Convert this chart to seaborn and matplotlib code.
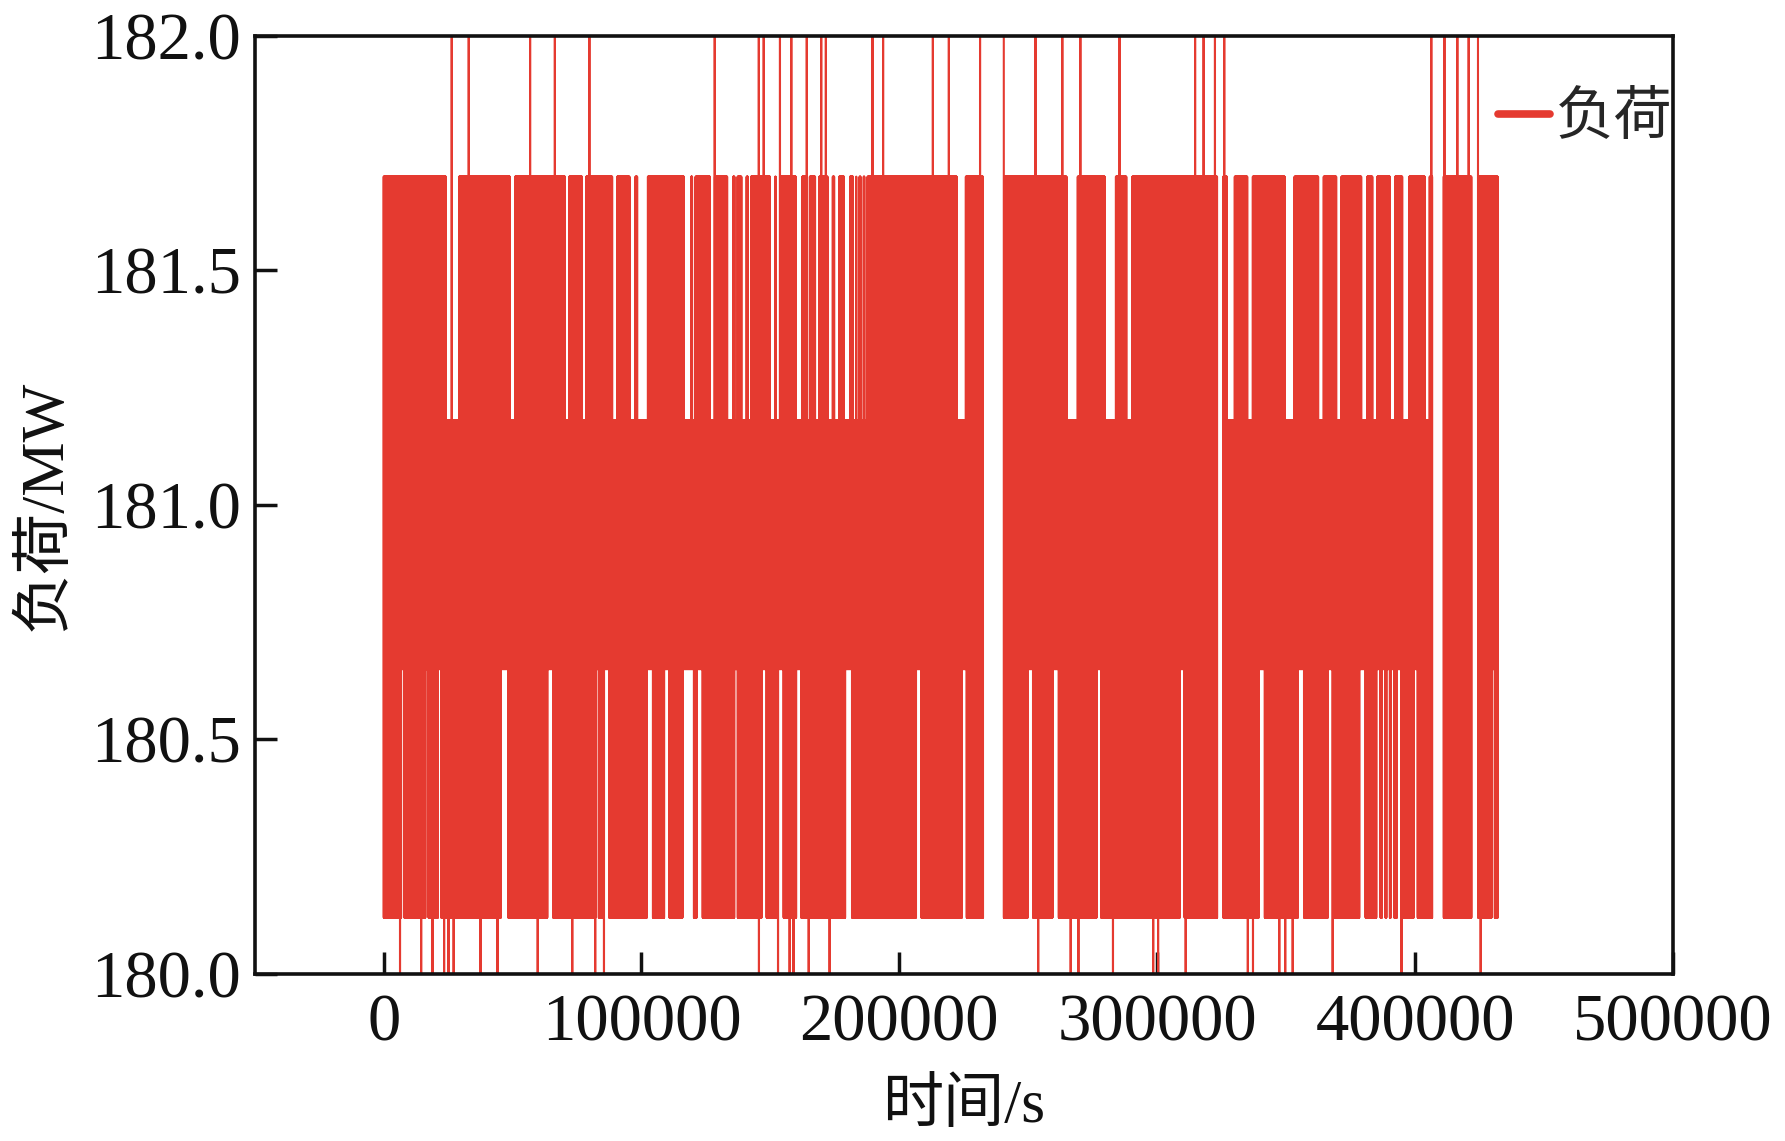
import numpy as np
import pandas as pd
import matplotlib
matplotlib.use("Agg")
import matplotlib.pyplot as plt
import seaborn as sns

# ---------------- data ----------------
# quantised load levels (MW)
LEVEL_SPIKE_LOW = 179.59   # dips that leave the axis floor
LEVEL_LOW = 180.12
LEVEL_MID_LOW = 180.65
LEVEL_MID_HIGH = 181.18
LEVEL_HIGH = 181.70
LEVEL_SPIKE_HIGH = 182.23  # spikes that leave the axis ceiling

T_START = 0        # s
T_END = 432000     # s
SAMPLE_STEP = 100  # s

# intervals without any samples (s)
NO_DATA = [(232400, 240500), (323280, 325580), (406650, 411050), (421850, 424400)]

# intervals where the load never reached 181.70 (top band white)
TOP_GAPS = [
    (24600, 28850), (49400, 50550), (70750, 71500), (77350, 78100),
    (89100, 90150), (95800, 97250), (98800, 102050), (116900, 118850),
    (120100, 120500), (126950, 128000), (133650, 135100), (136450, 136850),
    (139150, 140300), (141650, 142050), (150250, 151400), (152500, 153400),
    (160300, 161900), (164150, 164800), (167750, 168500), (172550, 173700),
    (175200, 176250), (178950, 180400), (182450, 182800), (183800, 184150),
    (185350, 185700), (186900, 187250), (222700, 225350), (265300, 268700),
    (280100, 283550), (288450, 289950), (327500, 329650), (335400, 336600),
    (349900, 352800), (362900, 364100), (369850, 371050), (379550, 381000),
    (383900, 384900), (390700, 391850), (395500, 397350), (404150, 405200),
]

# intervals where the load never fell to 180.12 (bottom band white)
BOTTOM_GAPS = [
    (7200, 7550), (16550, 16900), (21450, 21800), (45900, 47850),
    (63900, 65250), (82600, 82950), (85450, 86900), (102450, 103950),
    (109150, 110350), (116250, 119850), (121800, 123250), (136400, 136800),
    (147000, 148050), (153400, 154600), (160350, 161400), (179350, 181150),
    (206850, 208050), (224650, 225650), (250150, 251350), (259800, 261300),
    (276850, 277750), (309200, 310100), (339750, 341200), (354950, 356400),
    (366550, 367900), (378800, 380300), (385350, 386100), (387600, 388000),
    (389300, 389700), (391000, 391400), (393350, 394750), (399850, 400550),
    (430050, 430400),
]

# moments of spikes above 182 MW and dips below 180 MW (s)
SPIKES_UP = [26400, 33050, 56800, 66450, 79800, 128450, 145500, 147450,
             153700, 158150, 164100, 169700, 171500, 189600, 193750, 213050,
             219250, 231300, 240500, 252800, 263200, 270200, 285450, 314700,
             318050, 322400, 326050, 406300, 411400, 416450, 420800, 424450]
SPIKES_DOWN = [6300, 14500, 18950, 23400, 25150, 27100, 37500, 44150, 59750,
               73100, 82000, 85400, 145500, 152950, 157400, 158900, 164800,
               172950, 253850, 266450, 269450, 282800, 298400, 300350, 311000,
               335150, 337150, 347300, 349600, 352500, 368000, 394750, 425450]

X_TICKS = [0, 100000, 200000, 300000, 400000, 500000]
X_TICK_LABELS = ["0", "100000", "200000", "300000", "400000", "500000"]
Y_TICKS = [180.0, 180.5, 181.0, 181.5, 182.0]
Y_TICK_LABELS = ["180.0", "180.5", "181.0", "181.5", "182.0"]
X_LABEL = "时间/s"
Y_LABEL = "负荷/MW"
SERIES_NAME = "负荷"

# ---------------- style ----------------
sns.set_style("ticks")
plt.rcParams["font.family"] = ["Liberation Serif", "Noto Sans CJK SC"]
plt.rcParams["path.simplify"] = False
plt.rcParams["axes.unicode_minus"] = False

RED = "#e53a30"
INK = "#111111"
LINE_W = 1.5
DPI = 100

fig = plt.figure(figsize=(17.85, 11.41), dpi=DPI)
ax = fig.add_axes([0.1427, 0.1464, 0.7945, 0.8221])
ax.set_xlim(-50000, 500000)
ax.set_ylim(180.0, 182.0)

# seconds covered by one pixel, used to keep white gaps the width they are drawn
sec_per_px = 550000 / (0.7945 * 17.85 * DPI)
pad = LINE_W * DPI / 72 / 2 * sec_per_px

t = np.arange(T_START, T_END + SAMPLE_STEP, SAMPLE_STEP).astype(float)


def covered(gaps, extra, strict=False):
    m = np.zeros(len(t), dtype=bool)
    for a, b in gaps:
        if strict:
            m |= (t > a) & (t < b)
        else:
            m |= (t >= a - extra) & (t <= b + extra)
    return m


hi = np.where(covered(TOP_GAPS, pad), LEVEL_MID_HIGH, LEVEL_HIGH)
lo = np.where(covered(BOTTOM_GAPS, pad), LEVEL_MID_LOW, LEVEL_LOW)
for s in SPIKES_UP:
    hi[np.argmin(np.abs(t - s))] = LEVEL_SPIKE_HIGH
for s in SPIKES_DOWN:
    lo[np.argmin(np.abs(t - s))] = LEVEL_SPIKE_LOW
valid = ~covered(NO_DATA, 0, strict=True)

xs = np.column_stack([t, t + SAMPLE_STEP / 2]).ravel()
ys = np.column_stack([hi, lo]).ravel()
vv = np.repeat(valid, 2)
seg = np.cumsum(np.r_[True, vv[1:] != vv[:-1]])
df = pd.DataFrame({"time": xs, "load": ys, "seg": seg})[vv]

for i, (_, part) in enumerate(df.groupby("seg")):
    sns.lineplot(data=part, x="time", y="load", ax=ax, color=RED, lw=LINE_W,
                 estimator=None, sort=False, legend=False,
                 label=SERIES_NAME if i == 0 else None)

# axes cosmetics
ax.set_xticks(X_TICKS, X_TICK_LABELS)
ax.set_yticks(Y_TICKS, Y_TICK_LABELS)
ax.tick_params(direction="in", length=16, width=2.5, labelsize=48,
               colors=INK, top=False, right=False)
ax.tick_params(axis="y", pad=10)
ax.tick_params(axis="x", pad=14)
for sp in ax.spines.values():
    sp.set_visible(True)
    sp.set_linewidth(2.6)
    sp.set_color(INK)

ax.set_xlabel(X_LABEL, fontsize=44, color=INK)
ax.set_ylabel(Y_LABEL, fontsize=44, color=INK)
ax.xaxis.set_label_coords(0.5, -0.112)
ax.yaxis.set_label_coords(-0.128, 0.5)

leg = ax.legend(loc="upper right", bbox_to_anchor=(1.0, 0.94), frameon=False,
                fontsize=42, handlelength=0.9, handletextpad=0.1,
                borderaxespad=0, borderpad=0)
for ln in leg.get_lines():
    ln.set_linewidth(5.5)

fig.savefig("out.png", dpi=DPI)
